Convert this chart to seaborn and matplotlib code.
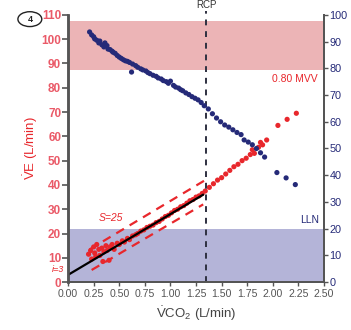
import numpy as np
import pandas as pd
import matplotlib
matplotlib.use("Agg")
import matplotlib.pyplot as plt
import matplotlib.transforms as mtransforms
from matplotlib.patches import Ellipse
import seaborn as sns

# VE (left axis, red) vs VCO2
ve_x = [0.20, 0.22, 0.23, 0.25, 0.26, 0.27, 0.28, 0.30, 0.31, 0.33, 0.34, 0.35,
        0.37, 0.38, 0.40, 0.41, 0.43, 0.45, 0.48, 0.50, 0.53, 0.55, 0.58, 0.60,
        0.63, 0.66, 0.68, 0.71, 0.74, 0.77, 0.80, 0.83, 0.86, 0.89, 0.92, 0.95,
        0.98, 1.01, 1.04, 1.07, 1.10, 1.13, 1.16, 1.19, 1.22, 1.25, 1.28, 1.31,
        1.34, 1.38, 1.42, 1.46, 1.50, 1.54, 1.58, 1.62, 1.66, 1.70, 1.74, 1.78,
        1.80, 1.82, 1.86, 1.88, 1.90, 1.94, 2.05, 2.14, 2.23]
ve_y = [11.5, 13.0, 9.5, 14.5, 12.0, 10.5, 15.5, 13.5, 11.0, 14.0, 8.5, 12.5,
        15.0, 13.0, 9.0, 14.5, 15.5, 13.5, 16.0, 15.5, 17.0, 16.5, 18.0, 17.5,
        19.0, 19.5, 20.0, 21.0, 21.5, 22.5, 23.0, 23.5, 24.5, 25.0, 26.0, 27.0,
        27.5, 28.5, 29.5, 30.0, 31.0, 31.5, 32.5, 33.5, 34.0, 35.0, 35.5, 36.5,
        37.5, 39.0, 40.5, 42.0, 43.0, 44.5, 46.0, 47.5, 48.5, 50.0, 51.0, 52.5,
        54.5, 53.0, 55.5, 57.5, 56.5, 58.5, 64.5, 67.0, 69.5]

# right axis (blue) vs VCO2
b_x = [0.21, 0.23, 0.25, 0.26, 0.28, 0.30, 0.31, 0.33, 0.35, 0.36, 0.38, 0.39,
       0.41, 0.43, 0.44, 0.46, 0.48, 0.50, 0.52, 0.54, 0.56, 0.58, 0.60, 0.62,
       0.63, 0.66, 0.68, 0.71, 0.73, 0.76, 0.78, 0.80, 0.83, 0.86, 0.88, 0.91,
       0.93, 0.96, 0.98, 1.00, 1.03, 1.05, 1.08, 1.10, 1.12, 1.15, 1.18, 1.21,
       1.24, 1.27, 1.30, 1.33, 1.37, 1.41, 1.45, 1.49, 1.53, 1.57, 1.61, 1.65,
       1.69, 1.72, 1.76, 1.80, 1.84, 1.88, 1.92, 2.04, 2.13, 2.22]
b_y = [93.6, 92.5, 91.8, 91.0, 90.5, 89.5, 90.2, 88.8, 88.0, 89.5, 88.5, 87.2,
       87.0, 86.4, 86.0, 85.6, 84.8, 84.2, 83.7, 83.2, 82.8, 82.6, 82.2, 78.6,
       81.6, 81.0, 80.4, 79.8, 79.4, 79.0, 78.4, 78.0, 77.4, 77.0, 76.4, 76.0,
       75.4, 75.0, 74.4, 75.2, 73.6, 73.0, 72.6, 72.0, 71.6, 70.8, 70.2, 69.4,
       68.8, 68.2, 67.2, 66.0, 64.8, 63.0, 61.4, 60.0, 58.8, 58.0, 57.0, 56.0,
       55.2, 53.2, 52.4, 51.4, 50.0, 48.4, 46.8, 41.0, 39.0, 36.5]

# regression (i=3, S=25) and limits
fit_x = [0.0, 1.32]
fit_y = [3.0, 36.0]
upper_x = [0.21, 1.34]
upper_y = [13.5, 42.0]
lower_x = [0.23, 1.32]
lower_y = [5.0, 32.0]

rcp_x = 1.35
mvv_band = (87.5, 107.5)
lln_band = (0.0, 22.0)

red = "#e8272c"
navy = "#252a78"
tickred = "#ea5a68"
gray = "#555555"

sns.set_style("ticks")
plt.rcParams["font.family"] = ["Liberation Sans", "DejaVu Sans"]
plt.rcParams["mathtext.fontset"] = "custom"
plt.rcParams["mathtext.rm"] = "Liberation Sans"

fig = plt.figure(figsize=(3.51, 3.30), dpi=100)
ax = fig.add_axes([0.194, 0.145, 0.729, 0.81])
ax2 = ax.twinx()

ax.axhspan(*mvv_band, color="#ecb4b6", lw=0, zorder=0)
ax.axhspan(*lln_band, color="#b4b4d8", lw=0, zorder=0)

red_df = pd.DataFrame({"vco2": ve_x, "ve": ve_y})
blue_df = pd.DataFrame({"vco2": b_x, "val": b_y})

sns.scatterplot(data=red_df, x="vco2", y="ve", ax=ax, color=red, s=14,
                edgecolor="none", zorder=3)
ax.plot(upper_x, upper_y, color=red, lw=1.6, ls=(0, (4, 3)), zorder=4)
ax.plot(lower_x, lower_y, color=red, lw=1.6, ls=(0, (4, 3)), zorder=4)
ax.plot(fit_x, fit_y, color="black", lw=1.6, zorder=5)

sns.scatterplot(data=blue_df, x="vco2", y="val", ax=ax2, color=navy, s=14,
                edgecolor="none", zorder=3)

ax.axvline(rcp_x, ymin=0, ymax=1.015, color="#2e3040", lw=1.4, ls=(0, (3, 3)),
           clip_on=False, zorder=6)

ax.set_xlim(0, 2.5)
ax.set_ylim(0, 110)
ax2.set_ylim(0, 100)
ax.set_xticks(np.arange(0, 2.51, 0.25))
ax.set_xticklabels([f"{v:.2f}" for v in np.arange(0, 2.51, 0.25)])
ax.set_yticks(range(0, 111, 10))
ax2.set_yticks(range(0, 101, 10))

ax.tick_params(axis="x", colors=gray, labelsize=7.6, length=3, width=1, pad=2)
ax.tick_params(axis="y", colors=gray, labelcolor=tickred, labelsize=8.5,
               length=4, width=1.2, pad=1)
ax2.tick_params(axis="y", colors=gray, labelcolor=navy, labelsize=7.8,
                length=3, width=1, pad=1)
for lab in ax.get_yticklabels():
    lab.set_fontweight("bold")

for a in (ax, ax2):
    a.spines["top"].set_visible(False)
    a.spines["left"].set_color(gray)
    a.spines["right"].set_color(gray)
    a.spines["bottom"].set_color(gray)
    a.spines["left"].set_linewidth(1.8)
    a.spines["right"].set_linewidth(1.4)
    a.spines["bottom"].set_linewidth(1.4)

ax.set_xlabel(r"$\dot{\mathrm{V}}$CO$_2$ (L/min)", color="#444444",
              fontsize=9.5, labelpad=4)
ax.set_ylabel(r"$\dot{\mathrm{V}}$E (L/min)", color=red, fontsize=9.5,
              labelpad=1)
ax2.set_ylabel("")

ax.text(2.44, 83.8, "0.80 MVV", color=red, fontsize=7.5, ha="right",
        va="center", zorder=7)
ax.text(2.45, 25.6, "LLN", color=navy, fontsize=7.5, ha="right",
        va="center", zorder=7)
ax.text(0.3, 26.5, "S=25", color=red, fontsize=7.5, style="italic",
        ha="left", va="center", zorder=7)
ax.text(-0.035, 5.0, "i=3", color=red, fontsize=6.5, style="italic",
        ha="right", va="center", clip_on=False, zorder=7)

trans = mtransforms.blended_transform_factory(ax.transData, ax.transAxes)
ax.text(rcp_x, 1.036, "RCP", transform=trans, color="#333333", fontsize=7,
        ha="center", va="center")

fig.patches.append(Ellipse((0.085, 0.942), 0.068, 0.045, transform=fig.transFigure,
                           fill=False, edgecolor="#222222", lw=1.0))
fig.text(0.085, 0.942, "4", fontsize=6.5, fontweight="bold", ha="center",
         va="center", color="#222222")

fig.savefig("out.png", dpi=100)
